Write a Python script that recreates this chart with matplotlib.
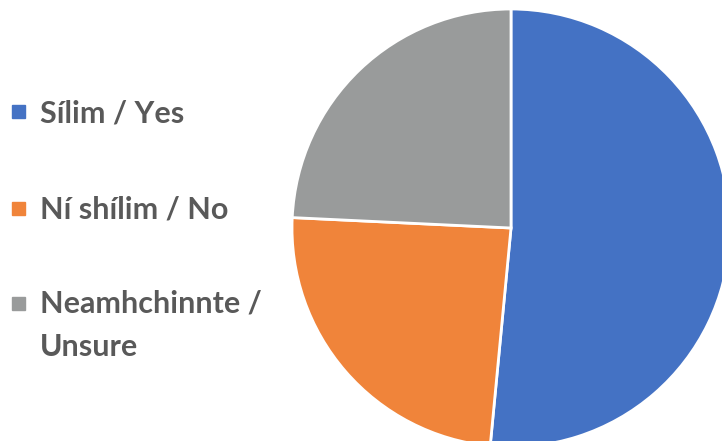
import matplotlib.pyplot as plt
from matplotlib.patches import Rectangle

labels = ["Sílim / Yes", "Ní shílim / No", "Neamhchinnte /\nUnsure"]
values = [34, 16, 16]
colors = ["#4472C4", "#F0843A", "#999B9B"]

plt.rcParams['font.family'] = ['Lato', 'DejaVu Sans']

fig = plt.figure(figsize=(7.22, 4.41), dpi=100)
ax = fig.add_axes([0, 0, 1, 1])
ax.axis('off')

ax.pie(values, colors=colors, startangle=90, counterclock=False,
       center=(511, 213), radius=219,
       wedgeprops=dict(edgecolor='white', linewidth=2))
ax.set_xlim(0, 722)
ax.set_ylim(0, 441)
ax.set_aspect('equal')

# legend drawn by hand, one entry per row (pixel coords, origin bottom-left)
square_y = [330, 233, 138]
baseline_y = [319, 223, 128]
for lab, col, sy, by in zip(labels, colors, square_y, baseline_y):
    ax.add_patch(Rectangle((12, sy - 7), 13, 13, color=col))
    for i, line in enumerate(lab.split('\n')):
        ax.text(40, by - 43 * i, line, fontsize=22, fontweight='bold',
                color='#595959', va='baseline', ha='left')

fig.savefig("out.png", dpi=100)
